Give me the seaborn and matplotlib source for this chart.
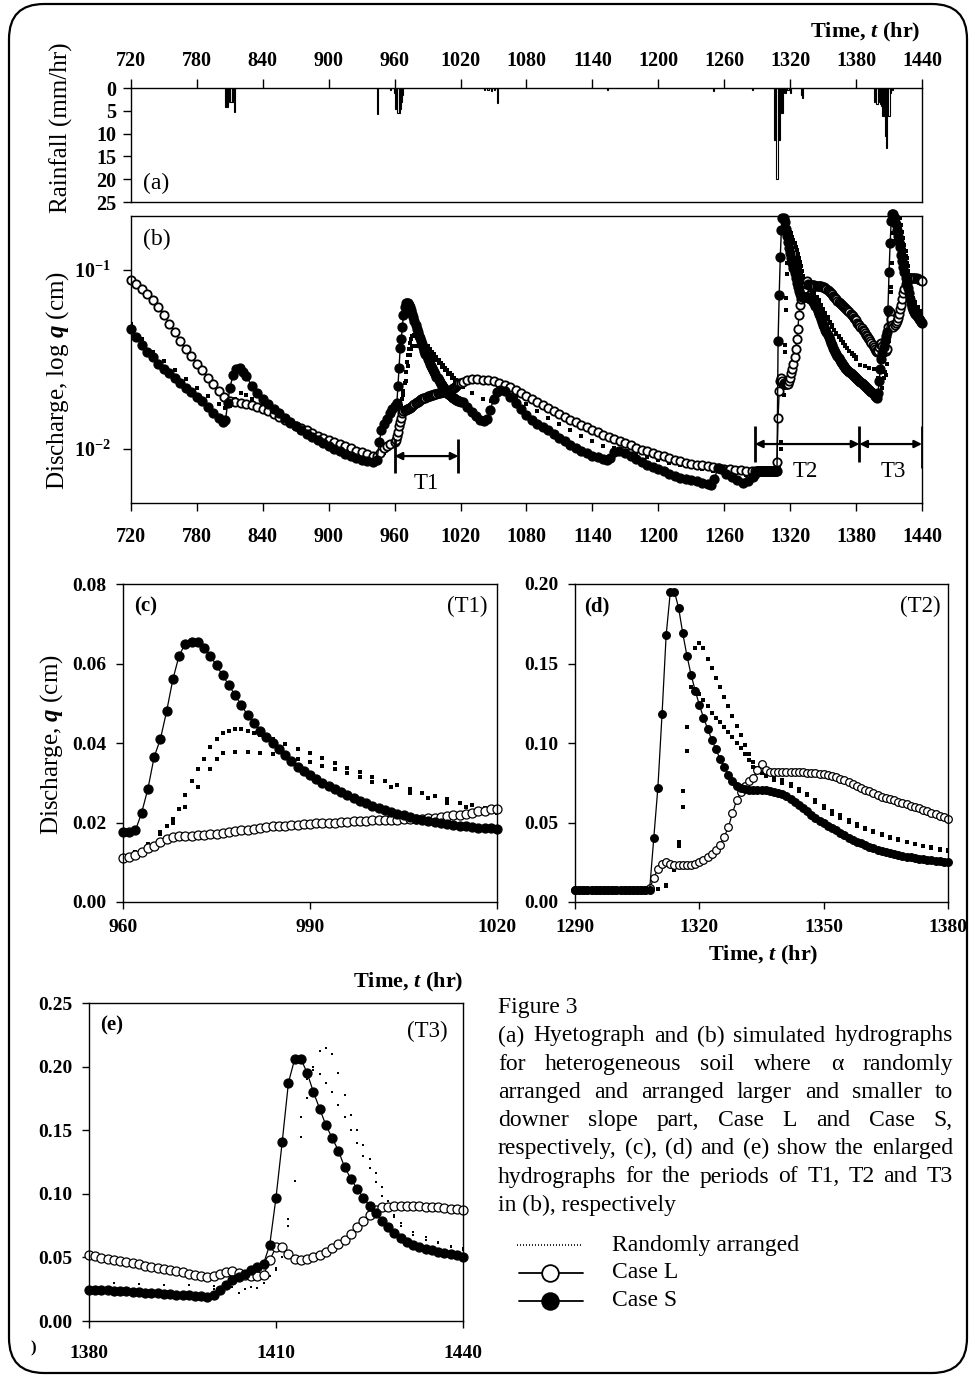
import numpy as np
import pandas as pd
import matplotlib
matplotlib.use("Agg")
import matplotlib.pyplot as plt
import seaborn as sns
from matplotlib.lines import Line2D
from matplotlib.patches import FancyBboxPatch
from matplotlib.transforms import IdentityTransform

# ---------------- data ----------------
# (a) hyetograph, rainfall in mm/hr at hour t
rain_t = [806, 807, 808, 810, 811, 812, 813, 814,
          944, 956, 960, 961, 962, 963, 964, 965, 966, 967,
          1042, 1045, 1048, 1051, 1054, 1154, 1250, 1286,
          1306, 1307, 1308, 1309, 1310, 1311, 1312, 1313, 1314, 1316, 1318, 1320, 1330, 1331,
          1397, 1398, 1399, 1400, 1401, 1402, 1403, 1404, 1405, 1406, 1407, 1408, 1409, 1410, 1411, 1413]
rain_mm = [4.2, 4.2, 4.2, 3.0, 3.0, 3.0, 3.0, 5.2,
           5.8, 0.5, 1.0, 4.5, 4.5, 5.5, 5.5, 4.5, 3.0, 1.5,
           0.5, 0.5, 0.6, 0.5, 3.2, 0.5, 0.7, 0.5,
           11.5, 11.5, 20.0, 11.5, 11.5, 5.5, 5.5, 5.5, 1.0, 1.0, 0.5, 1.0, 1.5, 2.1,
           3.0, 3.0, 3.5, 3.0, 1.0, 3.5, 3.9, 6.1, 6.1, 6.1, 10.5, 13.1, 6.1, 6.1, 1.0, 0.5]

# (b) discharge outside the enlarged windows, 720-958 hr
seg1_L_t = [720, 725, 730, 735, 740, 745, 750, 755, 760, 765, 770, 775, 780, 785, 790, 795, 800, 805, 810,
            815, 820, 825, 830, 835, 840, 845, 850, 855, 860, 865, 870, 875, 880, 885, 890, 895, 900,
            905, 910, 915, 920, 925, 930, 935, 940, 944, 947, 950, 953, 956]
seg1_L_q = [0.088, 0.083, 0.078, 0.073, 0.068, 0.062, 0.056, 0.050, 0.045, 0.040, 0.036, 0.033, 0.030,
            0.0275, 0.025, 0.023, 0.021, 0.0195, 0.0185, 0.0183, 0.0181, 0.0179, 0.0176, 0.0172, 0.0168,
            0.0163, 0.0157, 0.0151, 0.0145, 0.0140, 0.0135, 0.0131, 0.0127, 0.0123, 0.0119, 0.0116, 0.0113,
            0.0110, 0.0107, 0.0104, 0.0101, 0.0098, 0.0096, 0.0094, 0.0092, 0.0091, 0.0095, 0.0101, 0.0104, 0.0107]
seg1_S_t = [720, 725, 730, 735, 740, 745, 750, 755, 760, 765, 770, 775, 780, 785, 790, 795, 800, 804, 806,
            808, 810, 813, 816, 819, 822, 825, 830, 835, 840, 845, 850, 855, 860, 865, 870, 875, 880, 885,
            890, 895, 900, 905, 910, 915, 920, 925, 930, 935, 940, 944, 946, 948, 950, 953, 956, 958]
seg1_S_q = [0.047, 0.042, 0.038, 0.035, 0.0325, 0.030, 0.028, 0.0265, 0.025, 0.0235, 0.022, 0.0208, 0.0196,
            0.0185, 0.0172, 0.0160, 0.0150, 0.0142, 0.0145, 0.018, 0.022, 0.026, 0.028, 0.0285, 0.027, 0.0255,
            0.0225, 0.0205, 0.019, 0.0178, 0.0168, 0.0158, 0.0149, 0.0141, 0.0134, 0.0128, 0.0122, 0.0117,
            0.0112, 0.0108, 0.0104, 0.0100, 0.0097, 0.0094, 0.0091, 0.0089, 0.0087, 0.0086, 0.0085, 0.0087,
            0.0110, 0.0128, 0.0138, 0.0148, 0.0158, 0.0167]
seg1_R_t = [720, 730, 740, 750, 760, 770, 780, 790, 800, 806, 810, 815, 820, 825, 830, 840, 850, 860, 870,
            880, 890, 900, 910, 920, 930, 940, 945, 950, 955, 958]
seg1_R_q = [0.050, 0.041, 0.035, 0.031, 0.0275, 0.0245, 0.022, 0.0198, 0.0178, 0.017, 0.0175, 0.019, 0.0205,
            0.020, 0.019, 0.0178, 0.0163, 0.0150, 0.0138, 0.0127, 0.0118, 0.0110, 0.0103, 0.0097, 0.0092,
            0.0089, 0.0089, 0.0095, 0.0103, 0.0108]

# (b) discharge between the windows, 1022-1288 hr
seg2_L_t = [1022, 1026, 1030, 1035, 1040, 1045, 1050, 1055, 1060, 1065, 1070, 1075, 1080, 1085, 1090, 1095,
            1100, 1105, 1110, 1115, 1120, 1125, 1130, 1135, 1140, 1145, 1150, 1155, 1160, 1165, 1170, 1175,
            1180, 1185, 1190, 1195, 1200, 1205, 1210, 1215, 1220, 1225, 1230, 1235, 1240, 1245, 1250, 1255,
            1260, 1265, 1270, 1275, 1280, 1285, 1288]
seg2_L_q = [0.0238, 0.0243, 0.0246, 0.0246, 0.0244, 0.0242, 0.0239, 0.0235, 0.0229, 0.0221, 0.0213, 0.0205,
            0.0197, 0.0190, 0.0183, 0.0176, 0.0169, 0.0163, 0.0157, 0.0151, 0.0146, 0.0141, 0.0136, 0.0132,
            0.0128, 0.0124, 0.0120, 0.0117, 0.0114, 0.0111, 0.0108, 0.0105, 0.0102, 0.0099, 0.0097, 0.0095,
            0.0093, 0.0091, 0.0089, 0.0087, 0.0086, 0.0084, 0.0083, 0.0082, 0.0081, 0.0080, 0.0079, 0.0078,
            0.0077, 0.0077, 0.0076, 0.0076, 0.0075, 0.0075, 0.0075]
seg2_S_t = [1022, 1026, 1030, 1034, 1038, 1041, 1044, 1047, 1050, 1053, 1056, 1060, 1065, 1070, 1075, 1080,
            1085, 1090, 1095, 1100, 1105, 1110, 1115, 1120, 1125, 1130, 1135, 1140, 1145, 1150, 1153, 1156,
            1160, 1164, 1170, 1175, 1180, 1185, 1190, 1195, 1200, 1205, 1210, 1215, 1220, 1225, 1230, 1235,
            1240, 1245, 1248, 1251, 1254, 1257, 1262, 1267, 1272, 1277, 1282, 1286, 1288]
seg2_S_q = [0.0182, 0.0172, 0.0162, 0.0153, 0.0146, 0.0143, 0.0147, 0.0165, 0.0190, 0.0208, 0.0215, 0.0210,
            0.0195, 0.0180, 0.0167, 0.0155, 0.0145, 0.0138, 0.0133, 0.0128, 0.0122, 0.0116, 0.0111, 0.0106,
            0.0102, 0.0098, 0.0095, 0.0092, 0.0090, 0.0088, 0.0087, 0.0089, 0.0096, 0.0098, 0.0095, 0.0092,
            0.0088, 0.0085, 0.0082, 0.0079, 0.0077, 0.0075, 0.0073, 0.0071, 0.0069, 0.0068, 0.0067, 0.0066,
            0.0065, 0.0064, 0.0063, 0.0068, 0.0078, 0.0077, 0.0073, 0.0070, 0.0067, 0.0065, 0.0066, 0.0070,
            0.0073]
seg2_R_t = [1022, 1030, 1040, 1048, 1055, 1060, 1070, 1080, 1090, 1100, 1110, 1120, 1130, 1140, 1150, 1160,
            1170, 1180, 1190, 1200, 1210, 1220, 1230, 1240, 1250, 1260, 1270, 1280, 1288]
seg2_R_q = [0.0222, 0.0205, 0.0190, 0.0185, 0.0210, 0.0215, 0.0195, 0.0178, 0.0163, 0.0150, 0.0138, 0.0128,
            0.0119, 0.0111, 0.0104, 0.0101, 0.0098, 0.0094, 0.0090, 0.0087, 0.0084, 0.0081, 0.0079, 0.0077,
            0.0075, 0.0074, 0.0073, 0.0072, 0.0073]

# (c) period T1, hourly 960-1020
c_t = list(range(960, 1021))
c_S = [0.0175, 0.0175, 0.018, 0.0225, 0.0285, 0.0365, 0.041, 0.048, 0.056, 0.062, 0.065, 0.0655, 0.0655,
       0.064, 0.062, 0.0595, 0.057, 0.0545, 0.052, 0.0495, 0.047, 0.045, 0.043, 0.0415, 0.040, 0.0385,
       0.037, 0.0355, 0.034, 0.033, 0.032, 0.031, 0.030, 0.0292, 0.0284, 0.0276, 0.0268, 0.0261, 0.0254,
       0.0248, 0.0242, 0.0237, 0.0232, 0.0227, 0.0222, 0.0218, 0.0214, 0.021, 0.0207, 0.0204, 0.0201,
       0.0198, 0.0196, 0.0194, 0.0192, 0.019, 0.0188, 0.0187, 0.0186, 0.0185, 0.0184]
c_L = [0.011, 0.0112, 0.0118, 0.0125, 0.0135, 0.0142, 0.015, 0.0158, 0.0163, 0.0165, 0.0166, 0.0167,
       0.0168, 0.0169, 0.017, 0.0172, 0.0174, 0.0176, 0.0178, 0.018, 0.0182, 0.0184, 0.0186, 0.0188,
       0.019, 0.0191, 0.0192, 0.0193, 0.0194, 0.0196, 0.0197, 0.0198, 0.0199, 0.020, 0.020, 0.0201,
       0.0202, 0.0203, 0.0204, 0.0205, 0.0206, 0.0206, 0.0207, 0.0207, 0.0207, 0.0208, 0.0208, 0.0209,
       0.021, 0.0211, 0.0212, 0.0214, 0.0216, 0.0218, 0.022, 0.0222, 0.0225, 0.0228, 0.023, 0.0233, 0.0235]
c_R1_t = [960, 962, 964, 966, 967, 968, 969, 970, 971, 972, 973, 974, 975, 976, 977, 978, 979, 980, 981,
          982, 984, 986, 988, 990, 992, 994, 996, 998, 1000, 1002, 1004, 1006, 1008, 1010, 1012, 1014,
          1016, 1018, 1020]
c_R1_q = [0.0115, 0.0125, 0.0145, 0.017, 0.019, 0.021, 0.0235, 0.027, 0.0305, 0.0335, 0.036, 0.039, 0.041,
          0.0425, 0.043, 0.0435, 0.0435, 0.043, 0.0425, 0.042, 0.041, 0.0398, 0.0386, 0.0374, 0.0362,
          0.035, 0.0338, 0.0326, 0.0315, 0.0304, 0.0294, 0.0284, 0.0275, 0.0266, 0.0258, 0.025, 0.0243,
          0.0236, 0.0229]
c_R2_t = [966, 968, 970, 972, 974, 975, 976, 978, 980, 982, 984, 986, 988, 990, 992, 994, 996, 998, 1000,
          1003, 1006, 1009, 1012, 1015, 1018, 1020]
c_R2_q = [0.0175, 0.020, 0.024, 0.029, 0.0335, 0.036, 0.0375, 0.0378, 0.0378, 0.0376, 0.0372, 0.0366,
          0.036, 0.0352, 0.0343, 0.0334, 0.0324, 0.0314, 0.0303, 0.0289, 0.0275, 0.0262, 0.025, 0.024,
          0.023, 0.0224]

# (d) period T2, hourly 1290-1380
d_t = list(range(1290, 1381))
d_S = [0.0075] * 19 + [
       0.040, 0.072, 0.118, 0.168, 0.195, 0.195, 0.185, 0.169, 0.155, 0.143, 0.133, 0.124, 0.116, 0.109,
       0.102, 0.096, 0.090, 0.085, 0.080, 0.076, 0.073, 0.0715, 0.071, 0.0705, 0.0705, 0.0705, 0.0705,
       0.0705, 0.070, 0.069, 0.0685, 0.068, 0.0665, 0.065, 0.063, 0.061, 0.059, 0.057, 0.055, 0.053,
       0.0512, 0.0495, 0.048, 0.0465, 0.045, 0.0435, 0.042, 0.0405, 0.0392, 0.038, 0.0368, 0.0357,
       0.0347, 0.0338, 0.033, 0.0322, 0.0315, 0.0308, 0.0302, 0.0296, 0.029, 0.0285, 0.028, 0.0276,
       0.0272, 0.0268, 0.0265, 0.0262, 0.0259, 0.0256, 0.0253, 0.025]
d_L = [0.0075] * 18 + [
       0.0085, 0.015, 0.021, 0.024, 0.025, 0.024, 0.0235, 0.023, 0.023, 0.023, 0.0232, 0.024, 0.025,
       0.0265, 0.028, 0.030, 0.0325, 0.036, 0.041, 0.047, 0.056, 0.064, 0.069, 0.073, 0.076, 0.078,
       0.083, 0.087, 0.083, 0.082, 0.082, 0.082, 0.082, 0.082, 0.082, 0.0818, 0.0817, 0.0816, 0.0814,
       0.0812, 0.081, 0.0808, 0.0805, 0.080, 0.0795, 0.0785, 0.0775, 0.0765, 0.0755, 0.0742, 0.073,
       0.0717, 0.0705, 0.0695, 0.0685, 0.0673, 0.0662, 0.0655, 0.0647, 0.0639, 0.063, 0.0622, 0.0614,
       0.0606, 0.0598, 0.0589, 0.058, 0.057, 0.056, 0.0551, 0.0542, 0.0533, 0.0525]
d_R1_t = [1290, 1296, 1302, 1308, 1310, 1312, 1314, 1315, 1316, 1317, 1318, 1319, 1320, 1321, 1322, 1323,
          1324, 1325, 1326, 1327, 1328, 1329, 1330, 1331, 1332, 1333, 1334, 1335, 1336, 1338, 1340, 1342,
          1344, 1346, 1348, 1350, 1352, 1354, 1356, 1358, 1360, 1362, 1364, 1366, 1368, 1370, 1372, 1374,
          1376, 1378, 1380]
d_R1_q = [0.0073, 0.0073, 0.0073, 0.0075, 0.008, 0.010, 0.020, 0.035, 0.060, 0.095, 0.135, 0.160, 0.163,
          0.160, 0.153, 0.147, 0.141, 0.135, 0.129, 0.123, 0.117, 0.111, 0.105, 0.099, 0.093, 0.088, 0.084,
          0.081, 0.0795, 0.078, 0.0765, 0.074, 0.071, 0.068, 0.064, 0.0605, 0.0575, 0.0545, 0.0515, 0.049,
          0.0465, 0.0445, 0.0425, 0.041, 0.0395, 0.038, 0.0365, 0.0352, 0.034, 0.033, 0.032]
d_R2_t = [1308, 1310, 1312, 1314, 1315, 1316, 1317, 1318, 1319, 1320, 1321, 1322, 1323, 1324, 1325, 1326,
          1327, 1328, 1329, 1330, 1331, 1332, 1333, 1334, 1336, 1338, 1340, 1342, 1344, 1346, 1348, 1350,
          1352, 1354, 1356, 1358, 1360, 1362, 1364, 1366, 1368, 1370, 1372, 1374, 1376, 1378, 1380]
d_R2_q = [0.0075, 0.008, 0.011, 0.022, 0.038, 0.070, 0.110, 0.135, 0.134, 0.131, 0.127, 0.123, 0.119,
          0.116, 0.113, 0.110, 0.107, 0.104, 0.100, 0.097, 0.093, 0.089, 0.085, 0.082, 0.079, 0.077, 0.075,
          0.073, 0.070, 0.067, 0.063, 0.059, 0.0556, 0.053, 0.0505, 0.048, 0.046, 0.044, 0.042, 0.0405,
          0.039, 0.0377, 0.0365, 0.0355, 0.0345, 0.0335, 0.0326]

# (e) period T3, hourly 1380-1440
e_t = list(range(1380, 1441))
e_S = [0.0247, 0.0245, 0.0243, 0.0241, 0.0238, 0.0235, 0.0232, 0.0229, 0.0226, 0.0223, 0.022, 0.0217,
       0.0214, 0.0211, 0.0208, 0.0205, 0.0202, 0.0199, 0.0195, 0.0192, 0.0205, 0.024, 0.028, 0.032,
       0.0345, 0.037, 0.040, 0.0425, 0.045, 0.060, 0.097, 0.141, 0.1875, 0.206, 0.206, 0.195, 0.180,
       0.167, 0.154, 0.144, 0.134, 0.121, 0.112, 0.104, 0.097, 0.0905, 0.085, 0.079, 0.074, 0.069, 0.065,
       0.062, 0.0598, 0.058, 0.0565, 0.0555, 0.0545, 0.0535, 0.0525, 0.0515, 0.0505]
e_L = [0.0517, 0.0508, 0.0499, 0.049, 0.0481, 0.0472, 0.0463, 0.0454, 0.0445, 0.0436, 0.0427, 0.0418,
       0.0409, 0.040, 0.0391, 0.0382, 0.0373, 0.0364, 0.0355, 0.0348, 0.0355, 0.037, 0.0385, 0.039,
       0.0375, 0.036, 0.0355, 0.0355, 0.036, 0.048, 0.058, 0.058, 0.053, 0.049, 0.048, 0.049, 0.0505,
       0.052, 0.054, 0.057, 0.0605, 0.064, 0.0685, 0.074, 0.0785, 0.083, 0.087, 0.0895, 0.090, 0.0905,
       0.0905, 0.0905, 0.0905, 0.0902, 0.090, 0.0898, 0.0893, 0.0888, 0.0883, 0.0878, 0.0872]
e_R1_t = [1380, 1384, 1388, 1392, 1396, 1400, 1403, 1405, 1407, 1408, 1410, 1411, 1412, 1413, 1414, 1415,
          1416, 1417, 1418, 1419, 1420, 1421, 1422, 1423, 1424, 1425, 1426, 1427, 1428, 1429, 1430, 1432,
          1434, 1436, 1438, 1440]
e_R1_q = [0.030, 0.0295, 0.029, 0.0285, 0.028, 0.0275, 0.027, 0.025, 0.026, 0.030, 0.040, 0.055, 0.080,
          0.110, 0.145, 0.175, 0.200, 0.212, 0.215, 0.210, 0.195, 0.178, 0.162, 0.150, 0.138, 0.127, 0.116,
          0.105, 0.094, 0.083, 0.075, 0.068, 0.064, 0.061, 0.058, 0.056]
e_R2_t = [1400, 1404, 1406, 1409, 1410, 1411, 1412, 1413, 1414, 1415, 1416, 1417, 1418, 1419, 1420, 1421,
          1422, 1423, 1424, 1425, 1426, 1427, 1428, 1429, 1430, 1432, 1434, 1436, 1438, 1440]
e_R2_q = [0.025, 0.022, 0.027, 0.035, 0.042, 0.050, 0.075, 0.110, 0.160, 0.190, 0.197, 0.194, 0.187,
          0.180, 0.170, 0.160, 0.150, 0.140, 0.130, 0.120, 0.109, 0.098, 0.088, 0.082, 0.077, 0.070, 0.066,
          0.062, 0.059, 0.057]

x_ticks_ab = [720, 780, 840, 900, 960, 1020, 1080, 1140, 1200, 1260, 1320, 1380, 1440]
rain_ticks = [0, 5, 10, 15, 20, 25]
caption_lines = ["(a) Hyetograph and (b) simulated hydrographs",
                 "for heterogeneous soil where \u03b1 randomly",
                 "arranged and arranged larger and smaller to",
                 "downer slope part, Case L and Case S,",
                 "respectively, (c), (d) and (e) show the enlarged",
                 "hydrographs for the periods of T1, T2 and T3",
                 "in (b), respectively"]
legend_labels = ["Randomly arranged", "Case L", "Case S"]

# ---------------- style ----------------
sns.set_theme(style="white")
plt.rcParams["font.family"] = ["Liberation Serif", "DejaVu Serif"]
plt.rcParams.update({
    "mathtext.fontset": "custom",
    "mathtext.rm": "Liberation Serif",
    "mathtext.it": "Liberation Serif:italic:bold",
    "mathtext.bf": "Liberation Serif:bold",
    "axes.edgecolor": "black", "axes.labelcolor": "black", "text.color": "black",
    "xtick.color": "black", "ytick.color": "black", "axes.linewidth": 1.0,
})

W, H = 973, 1376
fig = plt.figure(figsize=(W / 100, H / 100), dpi=100)


def add_axes(left, top, right, bottom):
    return fig.add_axes([left / W, 1 - bottom / H, (right - left) / W, (bottom - top) / H])


def ftext(x, y, s, **kw):
    return fig.text(x / W, 1 - y / H, s, **kw)


def bold_ticks(ax, size=14.5):
    for lab in ax.get_xticklabels() + ax.get_yticklabels():
        lab.set_fontweight("bold")
        lab.set_fontsize(size)


def draw_case(ax, t, q, filled, ms, lw=0.9, mew=0.9):
    sns.lineplot(x=t, y=q, ax=ax, color="black", linewidth=lw, marker="o", markersize=ms,
                 markerfacecolor="black" if filled else "white", markeredgecolor="black",
                 markeredgewidth=mew, estimator=None, sort=False, legend=False, clip_on=False)


def draw_random(ax, t, q, s=4):
    sns.scatterplot(x=t, y=q, ax=ax, marker="s", s=s, color="black", linewidth=0, legend=False)


# ---------------- (a) hyetograph ----------------
ax_a = add_axes(131, 88, 922, 202)
ax_a.bar(rain_t, rain_mm, width=1.0, color="white", edgecolor="black", linewidth=0.8, align="center")
ax_a.set_xlim(720, 1440)
ax_a.set_ylim(25, 0)
ax_a.set_xticks(x_ticks_ab)
ax_a.set_yticks(rain_ticks)
ax_a.xaxis.tick_top()
ax_a.tick_params(axis="x", top=True, bottom=False, labeltop=True, labelbottom=False,
                 direction="out", length=6.5, width=1, pad=6)
ax_a.tick_params(axis="y", left=True, direction="out", length=5.5, width=1, pad=5)
bold_ticks(ax_a)
ax_a.text(0.015, 0.16, "(a)", transform=ax_a.transAxes, fontsize=17, va="center", ha="left")

# ---------------- (b) hydrographs, log scale ----------------
ax_b = add_axes(131, 216, 922, 503)
b_R_t = seg1_R_t + c_R1_t + seg2_R_t + d_R1_t + e_R1_t[1:]
b_R_q = seg1_R_q + c_R1_q + seg2_R_q + d_R1_q + e_R1_q[1:]
draw_random(ax_b, b_R_t, b_R_q, s=7)
draw_random(ax_b, c_R2_t + d_R2_t + e_R2_t, c_R2_q + d_R2_q + e_R2_q, s=7)
b_L_t = seg1_L_t + c_t + seg2_L_t + d_t + e_t[1:]
b_L_q = seg1_L_q + c_L + seg2_L_q + d_L + e_L[1:]
b_S_t = seg1_S_t + c_t + seg2_S_t + d_t + e_t[1:]
b_S_q = seg1_S_q + c_S + seg2_S_q + d_S + e_S[1:]
draw_case(ax_b, b_L_t, b_L_q, filled=False, ms=6, lw=1.0, mew=1.3)
draw_case(ax_b, b_S_t, b_S_q, filled=True, ms=6.5, lw=1.0)
ax_b.set_yscale("log")
ax_b.set_xlim(720, 1440)
ax_b.set_ylim(0.005, 0.2)
ax_b.set_xticks(x_ticks_ab)
ax_b.set_yticks([0.01, 0.1])
ax_b.set_yticklabels([r"$\mathbf{10^{-2}}$", r"$\mathbf{10^{-1}}$"])
ax_b.yaxis.set_minor_locator(matplotlib.ticker.NullLocator())
ax_b.tick_params(axis="x", bottom=True, direction="out", length=6, width=1, pad=11)
ax_b.tick_params(axis="y", left=True, direction="out", length=5.5, width=1, pad=9)
bold_ticks(ax_b)
ax_b.set_xlabel("")
ax_b.set_ylabel("")
ax_b.text(0.015, 0.92, "(b)", transform=ax_b.transAxes, fontsize=17, va="center", ha="left")

# period markers T1, T2, T3
arrow_kw = dict(arrowstyle="<|-|>", color="black", lw=1.6, shrinkA=0, shrinkB=0, mutation_scale=11)
for (t0, t1, ya) in [(960, 1018, 0.00914), (1288, 1383, 0.01067), (1383, 1440, 0.01067)]:
    ax_b.annotate("", xy=(t0, ya), xytext=(t1, ya), arrowprops=arrow_kw)
for (tb, y0, y1) in [(960, 0.00733, 0.01137), (1018, 0.00733, 0.01137), (1288, 0.0085, 0.0134),
                     (1383, 0.0085, 0.0134), (1440, 0.0078, 0.0134)]:
    ax_b.plot([tb, tb], [y0, y1], color="black", lw=2.0, solid_capstyle="butt")
ax_b.text(989, 0.00644, "T1", fontsize=16.5, ha="center", va="center")
ax_b.text(1334, 0.0075, "T2", fontsize=16.5, ha="center", va="center")
ax_b.text(1414, 0.0075, "T3", fontsize=16.5, ha="center", va="center")

# ---------------- (c), (d), (e) enlarged periods ----------------
ax_c = add_axes(123, 584, 497, 902)
draw_random(ax_c, c_R1_t, c_R1_q, s=5)
draw_random(ax_c, c_R2_t, c_R2_q, s=5)
draw_case(ax_c, c_t, c_L, filled=False, ms=6.5)
draw_case(ax_c, c_t, c_S, filled=True, ms=6.5)
ax_c.set_xlim(960, 1020)
ax_c.set_ylim(0, 0.08)
ax_c.set_xticks([960, 990, 1020])
ax_c.set_yticks([0.0, 0.02, 0.04, 0.06, 0.08])
ax_c.set_yticklabels(["0.00", "0.02", "0.04", "0.06", "0.08"])
ax_c.text(0.03, 0.93, "(c)", transform=ax_c.transAxes, fontsize=15, fontweight="bold", va="center")
ax_c.text(0.975, 0.93, "(T1)", transform=ax_c.transAxes, fontsize=16.5, ha="right", va="center")

ax_d = add_axes(575, 584, 948, 902)
draw_random(ax_d, d_R1_t, d_R1_q, s=5)
draw_random(ax_d, d_R2_t, d_R2_q, s=5)
draw_case(ax_d, d_t, d_L, filled=False, ms=5.5)
draw_case(ax_d, d_t, d_S, filled=True, ms=5.5)
ax_d.set_xlim(1290, 1380)
ax_d.set_ylim(0, 0.2)
ax_d.set_xticks([1290, 1320, 1350, 1380])
ax_d.set_yticks([0.0, 0.05, 0.10, 0.15, 0.20])
ax_d.set_yticklabels(["0.00", "0.05", "0.10", "0.15", "0.20"])
ax_d.text(0.025, 0.93, "(d)", transform=ax_d.transAxes, fontsize=15, fontweight="bold", va="center")
ax_d.text(0.98, 0.93, "(T2)", transform=ax_d.transAxes, fontsize=16.5, ha="right", va="center")

ax_e = add_axes(89, 1003, 463, 1321)
draw_random(ax_e, e_R1_t, e_R1_q, s=3)
draw_random(ax_e, e_R2_t, e_R2_q, s=3)
draw_case(ax_e, e_t, e_L, filled=False, ms=6.5)
draw_case(ax_e, e_t, e_S, filled=True, ms=6.5)
ax_e.set_xlim(1380, 1440)
ax_e.set_ylim(0, 0.25)
ax_e.set_xticks([1380, 1410, 1440])
ax_e.set_yticks([0.0, 0.05, 0.10, 0.15, 0.20, 0.25])
ax_e.set_yticklabels(["0.00", "0.05", "0.10", "0.15", "0.20", "0.25"])
ax_e.text(0.03, 0.93, "(e)", transform=ax_e.transAxes, fontsize=15, fontweight="bold", va="center")
ax_e.text(0.96, 0.91, "(T3)", transform=ax_e.transAxes, fontsize=16.5, ha="right", va="center")

for ax, xpad in [(ax_c, 7), (ax_d, 7), (ax_e, 12)]:
    ax.tick_params(axis="x", bottom=True, direction="out", length=5, width=1, pad=xpad)
    ax.tick_params(axis="y", left=True, direction="out", length=5, width=1, pad=7)
    ax.set_xlabel("")
    ax.set_ylabel("")
    bold_ticks(ax, 14)

for ax in [ax_a, ax_b, ax_c, ax_d, ax_e]:
    for sp in ax.spines.values():
        sp.set_color("black")
        sp.set_linewidth(1.0)

# ---------------- axis titles ----------------
ftext(61, 128, "Rainfall (mm/hr)", rotation=90, fontsize=18, ha="center", va="center")
ftext(58, 381, "Discharge, log $q$ (cm)", rotation=90, fontsize=18, ha="center", va="center")
ftext(52, 745, "Discharge, $q$ (cm)", rotation=90, fontsize=18, ha="center", va="center")
ftext(920, 32, "Time, $t$ (hr)", fontsize=16, fontweight="bold", ha="right", va="center")
ftext(763, 955, "Time, $t$ (hr)", fontsize=16, fontweight="bold", ha="center", va="center")
ftext(463, 982, "Time, $t$ (hr)", fontsize=16, fontweight="bold", ha="right", va="center")
ftext(33, 1348, ")", fontsize=12, fontweight="bold", ha="center", va="center")

# ---------------- caption (justified) ----------------
cap_fs = 17
ftext(498, 1008, "Figure 3", fontsize=cap_fs, ha="left", va="center")
renderer = fig.canvas.get_renderer()
x_left, x_right = 498, 953
for i, line in enumerate(caption_lines):
    y = 1036 + 28.2 * i
    words = line.split(" ")
    if i == len(caption_lines) - 1:
        ftext(x_left, y, line, fontsize=cap_fs, ha="left", va="center")
        continue
    objs = [ftext(0, y, w, fontsize=cap_fs, ha="left", va="center") for w in words]
    widths = [o.get_window_extent(renderer).width for o in objs]
    gap = (x_right - x_left - sum(widths)) / (len(words) - 1)
    x = x_left
    for o, w in zip(objs, widths):
        o.set_x(x / W)
        x += w + gap

# ---------------- legend ----------------
leg_y = [1245, 1273, 1301]
fig.add_artist(Line2D([517 / W, 583 / W], [1 - leg_y[0] / H] * 2, color="black", lw=1.2,
                      linestyle=(0, (0.6, 1.2))))
for y, face in [(leg_y[1], "white"), (leg_y[2], "black")]:
    fig.add_artist(Line2D([519 / W, 583 / W], [1 - y / H] * 2, color="black", lw=1.3))
    fig.add_artist(Line2D([550 / W], [1 - y / H], marker="o", markersize=12, color="black",
                          markerfacecolor=face, markeredgewidth=1.3, linestyle="none"))
for y, lab in zip(leg_y, legend_labels):
    ftext(612, y, lab, fontsize=cap_fs, ha="left", va="center")

# ---------------- rounded frame ----------------
frame = FancyBboxPatch((9, 3), 958, 1369, boxstyle="round,pad=0,rounding_size=35",
                       transform=IdentityTransform(), fill=False, lw=1.6, ec="black")
fig.add_artist(frame)

fig.savefig("out.png", dpi=100)
plt.close(fig)
